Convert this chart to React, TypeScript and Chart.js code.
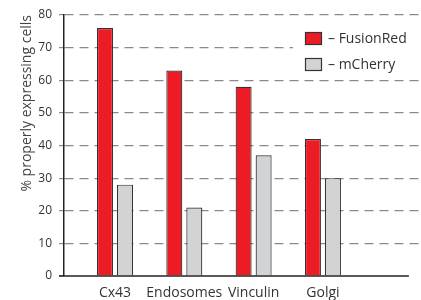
import React, { useEffect, useRef } from "react";
import { Chart, registerables } from "chart.js";

Chart.register(...registerables);

const categories = ["Cx43", "Endosomes", "Vinculin", "Golgi"];
const fusionRed = [76, 63, 58, 42];
const mCherry = [28, 21, 37, 30];
const yTicks = [0, 10, 20, 30, 40, 50, 60, 70, 80];

const FONT = "'Open Sans', 'DejaVu Sans', sans-serif";

export default function App() {
  const ref = useRef<HTMLCanvasElement | null>(null);

  useEffect(() => {
    const canvas = ref.current;
    if (!canvas) return;

    const baselinePlugin = {
      id: "baseline",
      afterDatasetsDraw(chart: any) {
        const { ctx, chartArea, scales } = chart;
        const xEnd = scales.x.getPixelForValue(4.24);
        const y0 = scales.y.getPixelForValue(0);
        ctx.save();
        ctx.strokeStyle = "#222";
        ctx.lineWidth = 1.5;
        ctx.beginPath();
        ctx.moveTo(chartArea.left - 5, y0);
        ctx.lineTo(xEnd, y0);
        ctx.stroke();
        ctx.restore();
      },
    };

    const legendPlugin = {
      id: "customLegend",
      afterDraw(chart: any) {
        const { ctx } = chart;
        ctx.save();
        ctx.fillStyle = "#fff";
        ctx.fillRect(293, 24, 128, 52);
        chart.data.datasets.forEach((ds: any, i: number) => {
          const y = 32 + i * 26;
          ctx.fillStyle = ds.backgroundColor;
          ctx.fillRect(305.5, y + 0.5, 16, 12);
          ctx.strokeStyle = "#333";
          ctx.lineWidth = 1.2;
          ctx.strokeRect(305.5, y + 0.5, 16, 12);
          ctx.fillStyle = "#333";
          ctx.font = `14px ${FONT}`;
          ctx.textBaseline = "middle";
          ctx.textAlign = "left";
          ctx.fillText("\u2013 " + ds.label, 328, y + 7);
        });
        ctx.restore();
      },
    };

    const chart = new Chart(canvas, {
      type: "bar",
      data: {
        datasets: [
          {
            label: "FusionRed",
            data: categories.map((_, i) => ({ x: i, y: fusionRed[i] })),
            backgroundColor: "#ED1C24",
            borderColor: "#333",
            borderWidth: 1.2,
          },
          {
            label: "mCherry",
            data: categories.map((_, i) => ({ x: i, y: mCherry[i] })),
            backgroundColor: "#D1D3D4",
            borderColor: "#333",
            borderWidth: 1.2,
          },
        ],
      },
      options: {
        animation: false,
        responsive: false,
        maintainAspectRatio: false,
        categoryPercentage: 0.577,
        barPercentage: 0.8,
        layout: { padding: { top: 15, right: 1, left: 0, bottom: 0 } },
        plugins: {
          legend: { display: false },
          tooltip: { enabled: false },
        },
        scales: {
          x: {
            type: "linear",
            offset: false,
            min: -0.7356,
            max: 4.4,
            afterBuildTicks: (scale: any) => {
              scale.ticks = categories.map((_, i) => ({ value: i }));
            },
            afterFit: (scale: any) => {
              scale.height = 24;
            },
            grid: { display: false, drawTicks: false, offset: false },
            border: { display: false },
            ticks: {
              autoSkip: false,
              maxRotation: 0,
              padding: 9,
              color: "#333",
              font: { family: FONT, size: 14 },
              callback: (v: any) => categories[v] ?? "",
            },
          },
          y: {
            min: 0,
            max: 80,
            afterBuildTicks: (scale: any) => {
              scale.ticks = yTicks.map((v) => ({ value: v }));
            },
            afterFit: (scale: any) => {
              scale.width = 64;
            },
            grid: {
              color: (c: any) => (c.tick && c.tick.value === 0 ? "rgba(0,0,0,0)" : "#8a8a8a"),
              lineWidth: 1.2,
              tickLength: 5,
              tickColor: "#8a8a8a",
              tickBorderDash: [],
            },
            border: { display: true, color: "#222", width: 1.5, dash: [9, 6] },
            ticks: {
              padding: 7,
              color: "#333",
              font: { family: FONT, size: 12 },
            },
            title: {
              display: true,
              text: "% properly expressing cells",
              align: "end",
              color: "#444",
              font: { family: FONT, size: 14 },
              padding: { top: 19, bottom: 0 },
            },
          },
        },
      },
      plugins: [baselinePlugin, legendPlugin],
    } as any);

    return () => chart.destroy();
  }, []);

  return (
    <div style={{ position: "fixed", left: 0, top: 0, width: 421, height: 300 }}>
      <canvas ref={ref} width={421} height={300} style={{ width: 421, height: 300 }} />
    </div>
  );
}
